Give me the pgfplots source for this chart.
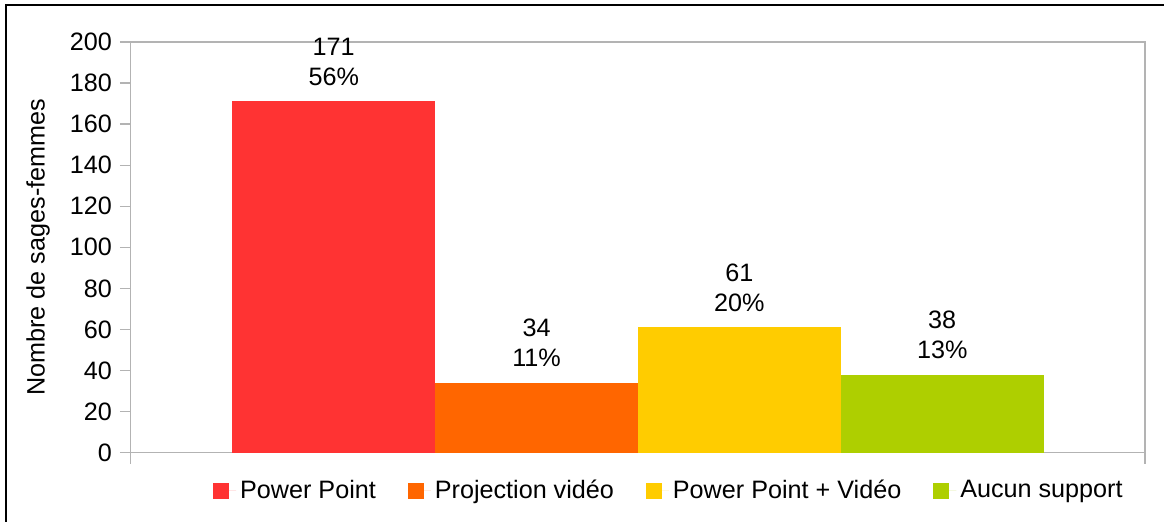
\documentclass[border=0pt]{standalone}
\usepackage{fontspec}
\setmainfont{Liberation Sans}
\usepackage{pgfplots}
\pgfplotsset{compat=1.18}
\definecolor{cRed}{HTML}{FF3333}
\definecolor{cOrange}{HTML}{FF6600}
\definecolor{cYellow}{HTML}{FFCC00}
\definecolor{cGreen}{HTML}{AECF00}
\definecolor{axgray}{HTML}{B3B3B3}
\newcommand{\ff}{\fontsize{12.6}{15}\selectfont}
\begin{document}
\begin{tikzpicture}
\path (0,0) rectangle (582.5pt,261pt);
\draw[line width=1pt,black] (3pt,0) -- (3pt,258.5pt) -- (582.5pt,258.5pt);
\begin{axis}[
  at={(65.5pt,34.5pt)}, anchor=south west,
  scale only axis=true, width=507.5pt, height=205.5pt,
  xmin=0, xmax=5, ymin=0, ymax=200,
  ytick={0,20,...,200}, xtick={0,5}, xticklabels={},
  xtick pos=left, ytick pos=left,
  tick align=outside, major tick length=5.5pt,
  axis line style={axgray, line width=0.6pt},
  every tick/.style={axgray, line width=0.6pt},
  /pgf/number format/assume math mode=true,
  tick label style={font=\ff},
  yticklabel style={xshift=-0.5pt},
  ylabel={Nombre de sages-femmes},
  ylabel style={font=\ff, at={(axis description cs:-0.0916,0.5)}, anchor=center},
  ybar, bar width=1, bar shift=0pt,
  point meta=explicit symbolic,
  nodes near coords,
  nodes near coords align={center},
  every node near coord/.append style={font=\ff, align=center, anchor=south, yshift=4.5pt, black},
  legend columns=4,
  legend style={at={(0.5315,-0.0925)}, anchor=center, draw=none, font=\ff,
    /tikz/every even column/.append style={column sep=14pt}},
  legend image code/.code={\fill[#1] (0pt,-4pt) rectangle (8pt,4pt); \path (0pt,0pt) -- (11.5pt,0pt);},
]
\addplot[fill=cRed, draw=none] coordinates {(1,171) [171\\56\%]};
\addlegendentry{Power Point}
\addplot[fill=cOrange, draw=none] coordinates {(2,34) [34\\11\%]};
\addlegendentry{Projection vidéo}
\addplot[fill=cYellow, draw=none] coordinates {(3,61) [61\\20\%]};
\addlegendentry{Power Point + Vidéo}
\addplot[fill=cGreen, draw=none] coordinates {(4,38) [38\\13\%]};
\addlegendentry{Aucun support}
\end{axis}
\end{tikzpicture}
\end{document}
